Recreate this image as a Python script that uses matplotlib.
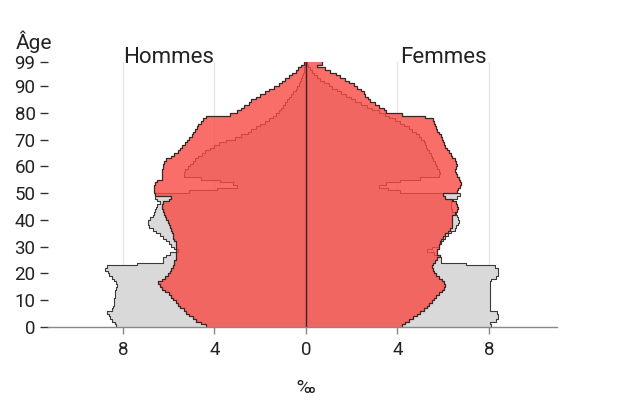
import numpy as np
import matplotlib
matplotlib.use('Agg')
import matplotlib.pyplot as plt

# per-mille share by single year of age, ages 0..98
ages = np.arange(0, 99)

grey_men = [
    8.30, 8.35, 8.50, 8.55, 8.60, 8.70, 8.50, 8.45, 8.40, 8.40,
    8.40, 8.35, 8.35, 8.35, 8.30, 8.25, 8.30, 8.40, 8.50, 8.60,
    8.65, 8.80, 8.70, 7.40, 6.25, 6.25, 6.10, 5.95, 5.60, 5.75,
    5.90, 6.00, 6.10, 6.25, 6.40, 6.55, 6.70, 6.85, 6.90, 6.90,
    6.80, 6.70, 6.65, 6.60, 6.55, 6.50, 6.40, 6.50, 6.60, 6.60,
    5.10, 3.90, 3.00, 3.20, 3.75, 4.60, 5.35, 5.35, 5.30, 5.15,
    5.05, 4.95, 4.85, 4.70, 4.55, 4.40, 4.20, 4.00, 3.80, 3.50,
    3.10, 2.85, 2.55, 2.40, 2.20, 2.00, 1.80, 1.60, 1.45, 1.30,
    1.20, 1.10, 1.00, 0.90, 0.85, 0.75, 0.65, 0.55, 0.45, 0.38,
    0.30, 0.25, 0.20, 0.16, 0.13, 0.10, 0.08, 0.05, 0.03,
]
grey_women = [
    8.10, 8.05, 8.30, 8.40, 8.40, 8.35, 8.05, 8.05, 8.05, 8.05,
    8.05, 8.05, 8.05, 8.05, 8.05, 8.05, 8.05, 8.10, 8.30, 8.40,
    8.40, 8.40, 8.25, 7.00, 5.90, 5.90, 5.85, 5.60, 5.30, 5.50,
    5.80, 5.90, 6.00, 6.10, 6.20, 6.35, 6.50, 6.55, 6.65, 6.70,
    6.65, 6.60, 6.55, 6.40, 6.35, 6.35, 6.35, 6.45, 6.60, 6.75,
    4.10, 3.60, 3.20, 3.50, 4.10, 5.00, 5.80, 5.85, 5.80, 5.75,
    5.70, 5.65, 5.55, 5.50, 5.45, 5.40, 5.30, 5.25, 5.20, 5.15,
    5.05, 4.95, 4.80, 4.65, 4.50, 4.30, 4.10, 3.90, 3.65, 3.45,
    3.20, 2.90, 2.65, 2.40, 2.15, 1.95, 1.75, 1.55, 1.35, 1.15,
    1.00, 0.80, 0.60, 0.50, 0.35, 0.25, 0.17, 0.10, 0.05,
]
red_men = [
    4.35, 4.60, 4.80, 4.95, 5.10, 5.25, 5.35, 5.50, 5.60, 5.70,
    5.80, 5.90, 6.00, 6.15, 6.30, 6.40, 6.45, 6.30, 6.15, 6.05,
    5.95, 5.90, 5.80, 5.75, 5.75, 5.70, 5.70, 5.70, 5.70, 5.70,
    5.70, 5.70, 5.75, 5.80, 5.80, 5.85, 5.90, 5.95, 6.00, 6.05,
    6.10, 6.15, 6.20, 6.25, 6.30, 6.30, 6.25, 6.00, 5.90, 6.60,
    6.65, 6.65, 6.65, 6.60, 6.50, 6.30, 6.30, 6.30, 6.30, 6.25,
    6.25, 6.20, 6.10, 5.90, 5.75, 5.60, 5.50, 5.40, 5.30, 5.20,
    5.10, 5.00, 4.95, 4.85, 4.75, 4.70, 4.60, 4.50, 4.35, 3.30,
    3.00, 2.85, 2.70, 2.50, 2.40, 2.20, 2.00, 1.80, 1.60, 1.40,
    1.20, 1.05, 0.90, 0.75, 0.60, 0.45, 0.35, 0.20, 0.10,
]
red_women = [
    4.20, 4.35, 4.50, 4.70, 4.85, 5.00, 5.15, 5.30, 5.40, 5.50,
    5.60, 5.70, 5.80, 5.95, 6.05, 6.10, 6.05, 5.95, 5.80, 5.70,
    5.60, 5.55, 5.50, 5.55, 5.65, 5.75, 5.85, 5.75, 5.75, 5.80,
    5.80, 5.85, 5.90, 6.00, 6.10, 6.20, 6.30, 6.40, 6.40, 6.40,
    6.40, 6.40, 6.50, 6.60, 6.65, 6.60, 6.55, 6.40, 6.10, 6.00,
    6.60, 6.65, 6.75, 6.80, 6.75, 6.70, 6.60, 6.55, 6.50, 6.55,
    6.60, 6.55, 6.50, 6.40, 6.35, 6.25, 6.15, 6.10, 6.05, 6.00,
    5.95, 5.90, 5.80, 5.75, 5.70, 5.65, 5.60, 5.55, 5.20, 4.20,
    3.50, 3.40, 3.20, 3.00, 2.80, 2.70, 2.60, 2.55, 2.40, 2.25,
    2.10, 1.90, 1.70, 1.50, 1.30, 1.05, 0.85, 0.50, 0.70,
]

xticks = [-8, -4, 0, 4, 8]
yticks = [0, 10, 20, 30, 40, 50, 60, 70, 80, 90, 99]

plt.rcParams['font.family'] = ['Roboto', 'DejaVu Sans']

fig = plt.figure(figsize=(6.4, 4.0), dpi=100)
ax = fig.add_axes([0.075, 0.1825, 0.795, 0.6625])


def steps(values):
    # turn one value per age into a staircase
    y = np.repeat(np.append(ages, ages[-1] + 1), 2)[1:-1]
    x = np.repeat(np.asarray(values), 2)
    return x, y


for side, grey, red in [(-1, grey_men, red_men), (1, grey_women, red_women)]:
    gx, gy = steps(grey)
    rx, ry = steps(red)
    ax.fill_betweenx(gy, 0, side * gx, color='#d9d9d9', lw=0, zorder=1)
    ax.plot(side * gx, gy, color='#3a3a3a', lw=0.8, zorder=2)
    ax.fill_betweenx(ry, 0, side * rx, color='#f94a43', alpha=0.8, lw=0, zorder=3)
    ax.plot(side * rx, ry, color='#3a2626', lw=0.9, zorder=4)

ax.plot([0, 0], [0, 99], color='#3a2020', lw=1.0, zorder=5)

# vertical guides
for v in [-8, -4, 4, 8]:
    ax.plot([v, v], [0, 99], color='#e6e6e6', lw=1.0, zorder=0)

ax.set_xlim(-11.28, 10.97)
ax.set_ylim(0, 99)
ax.set_xticks(xticks)
ax.set_xticklabels([str(abs(t)) for t in xticks])
ax.set_yticks(yticks)
ax.tick_params(axis='x', length=5, width=1, color='#888888', labelsize=13.5,
               labelcolor='#222222', pad=5)
ax.tick_params(axis='y', length=6, width=1, color='#333333', labelsize=13.5,
               labelcolor='#222222', pad=3)
for s in ['top', 'right', 'left']:
    ax.spines[s].set_visible(False)
ax.spines['bottom'].set_color('#888888')
ax.spines['bottom'].set_linewidth(1)
ax.spines['bottom'].set_zorder(6)

ax.text(-6, 98.6, 'Hommes', ha='center', va='baseline', fontsize=16, color='#222222')
ax.text(6, 98.6, 'Femmes', ha='center', va='baseline', fontsize=16, color='#222222')
fig.text(34 / 640, 1 - 42 / 400, 'Âge', ha='center', va='center', fontsize=15, color='#222222')
fig.text(306 / 640, 1 - 388 / 400, '‰', ha='center', va='center', fontsize=14, color='#222222')

fig.savefig('out.png', dpi=100)
plt.close(fig)
